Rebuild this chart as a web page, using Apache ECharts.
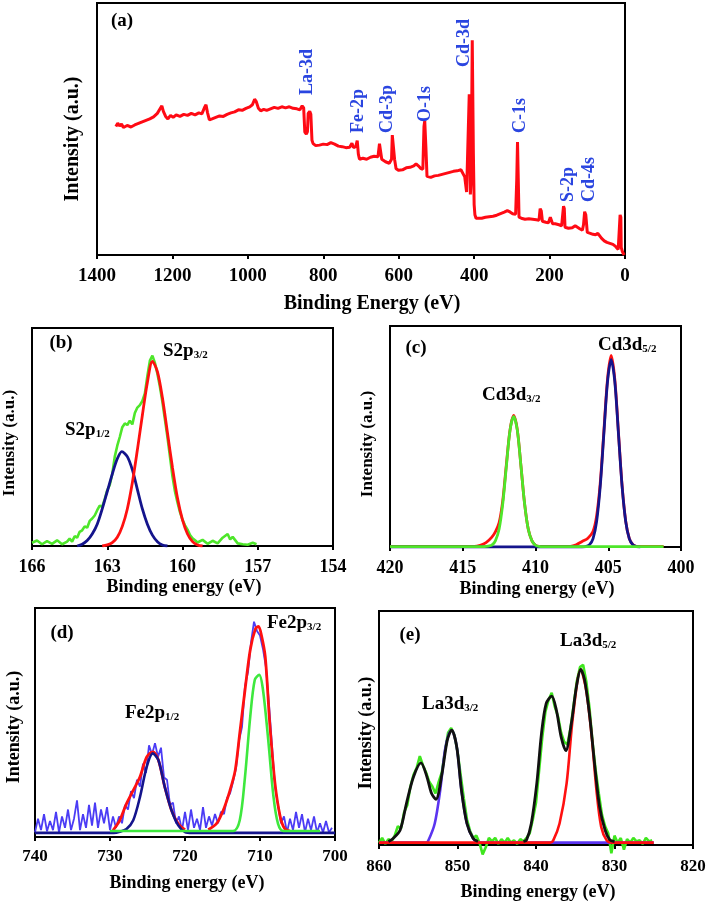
<!DOCTYPE html>
<html>
<head>
<meta charset="utf-8">
<script src="https://cdn.jsdelivr.net/npm/echarts@6/dist/echarts.min.js"></script>
<style>html,body{margin:0;padding:0;background:#fff;}#c{width:709px;height:904px;}</style>
</head>
<body>
<div id="c"></div>
<script>
// ===== Panel (a): XPS survey [binding energy eV, intensity a.u.] =====
const surveyData = [[1350,51.0],[1345,52.3],[1340,51.2],[1335,52.0],[1330,50.6],[1320,51.4],[1310,50.8],[1300,51.6],[1290,52.2],[1280,52.8],[1270,53.4],[1260,54.0],[1250,54.8],[1240,56.2],[1232,58.2],[1228,59.2],[1224,57.0],[1218,55.0],[1212,54.0],[1205,55.4],[1198,54.6],[1190,55.6],[1180,55.0],[1170,55.8],[1160,55.4],[1150,56.2],[1140,55.6],[1130,56.4],[1122,56.0],[1115,58.5],[1111,59.6],[1107,56.5],[1102,53.6],[1095,54.0],[1085,54.6],[1075,55.2],[1065,55.0],[1055,55.8],[1045,56.4],[1035,56.8],[1025,57.6],[1015,57.4],[1005,58.2],[995,58.8],[988,59.6],[982,61.8],[978,61.0],[972,58.2],[966,57.2],[958,57.8],[950,57.4],[940,58.0],[930,58.6],[920,58.2],[910,58.8],[900,58.4],[890,58.8],[880,58.2],[870,58.0],[862,57.6],[856,59.2],[852,58.4],[849,48.8],[845,48.0],[842,49.0],[840,56.2],[836,57.0],[833,55.8],[830,45.5],[827,44.2],[820,43.4],[810,43.6],[800,44.0],[790,43.8],[780,44.6],[770,44.0],[760,43.2],[750,43.0],[740,42.6],[730,42.8],[724,44.4],[720,42.6],[714,43.0],[710,45.4],[707,40.0],[704,38.0],[695,38.4],[685,38.0],[675,38.8],[665,39.2],[655,39.0],[651,44.2],[648,43.6],[645,38.0],[635,37.0],[625,36.4],[619,38.0],[617,47.6],[614,47.0],[611,38.0],[607,34.2],[600,33.6],[590,33.8],[580,34.6],[570,34.8],[560,35.4],[554,36.2],[548,35.4],[542,34.4],[536,34.0],[533,51.0],[531,53.2],[528,43.0],[525,31.2],[520,30.6],[515,30.8],[505,31.4],[495,31.6],[485,32.0],[475,32.4],[465,32.8],[455,33.2],[445,33.4],[435,33.8],[430,34.4],[425,31.0],[420,25.0],[416,25.5],[413,63.8],[410,24.0],[408,30.0],[405,85.2],[402,40.0],[400,20.0],[398,16.0],[395,14.6],[390,14.4],[380,14.6],[370,15.0],[360,15.2],[350,15.4],[340,15.8],[330,16.4],[320,17.0],[312,17.6],[308,17.9],[304,17.0],[298,16.4],[290,16.2],[287,30.0],[285,44.8],[283,30.0],[281,15.0],[275,14.6],[265,14.2],[255,14.4],[245,14.2],[235,14.0],[228,13.8],[225,18.4],[222,17.5],[219,13.4],[210,13.0],[203,12.8],[198,15.0],[195,14.5],[192,12.4],[185,12.4],[175,12.0],[168,11.6],[165,12.0],[163,19.4],[161,18.5],[159,11.0],[150,10.6],[140,10.8],[132,11.6],[128,11.0],[120,10.4],[113,9.8],[110,12.0],[107,17.2],[104,16.0],[100,9.0],[92,8.6],[85,8.2],[78,8.0],[72,8.6],[68,8.0],[62,6.6],[55,5.6],[48,5.0],[40,4.6],[32,4.2],[25,3.4],[18,2.2],[14,2.0],[13,15.9],[11,15.0],[10,3.0],[7,1.4],[4,0.5],[2,0.0]];
const surveyPeaks = ['La-3d','Fe-2p','Cd-3p','O-1s','Cd-3d','C-1s','S-2p','Cd-4s'];
const surveyTicks = [1400,1200,1000,800,600,400,200,0];

// ===== Panel (b): S 2p =====
const s2pRaw = [[166,1.5],[165.8,2.5],[165.6,0.8],[165.4,2.2],[165.2,1.0],[165.0,2.6],[164.8,0.8],[164.6,2.0],[164.5,3.4],[164.4,2.0],[164.3,4.5],[164.2,3.8],[164.1,6.5],[164.0,7.2],[163.9,9.0],[163.8,8.4],[163.7,11.5],[163.6,12.6],[163.5,14.0],[163.4,16.4],[163.3,18.5],[163.2,18.0],[163.1,21.5],[163.0,25.6],[162.9,28],[162.8,33],[162.7,41],[162.6,46],[162.5,50],[162.4,54.5],[162.3,56.2],[162.2,55.5],[162.1,57.5],[162.0,55.8],[161.9,61],[161.8,63.5],[161.7,64.6],[161.6,66.5],[161.5,70],[161.4,78],[161.3,85],[161.2,87.3],[161.1,84],[161.0,79],[160.9,73],[160.8,66],[160.7,58],[160.6,50],[160.5,41],[160.4,32],[160.3,25],[160.2,20],[160.1,15.5],[160.0,12],[159.9,9.5],[159.8,7.5],[159.7,5.0],[159.6,3.5],[159.5,2.6],[159.4,1.6],[159.2,2.8],[159.0,1.0],[158.8,2.4],[158.6,1.2],[158.4,3.8],[158.2,5.5],[158.1,3.0],[158.0,4.2],[157.8,1.2],[157.6,0.8],[157.4,0.6],[157.2,1.5],[157.05,0.8]];
const s2p32 = [[163.2,0],[163.0,0.5],[162.8,1.5],[162.6,4],[162.4,9],[162.2,17],[162.0,29],[161.8,44],[161.6,60],[161.4,75],[161.2,84.7],[161.0,80],[160.8,68],[160.6,52],[160.4,36],[160.2,22],[160.0,12],[159.8,5.5],[159.6,2],[159.4,0.5],[159.2,0]];
const s2p12 = [[164.2,0],[164.0,0.8],[163.8,2.5],[163.6,5.5],[163.4,10],[163.2,17],[163.0,25],[162.8,33],[162.6,40],[162.42,43.3],[162.2,41],[162.0,35],[161.8,26],[161.6,17],[161.4,10],[161.2,5],[161.0,2],[160.8,0.5],[160.6,0]];
const s2pTicks = [154,157,160,163,166];

// ===== Panel (c): Cd 3d =====
const cdEnvelope = [[420,0.3],[414.2,0.3],[413.8,0.8],[413.4,2],[413.0,4.5],[412.75,7],[412.5,11],[412.25,21],[412.0,37.5],[411.75,53],[411.5,59.5],[411.25,53],[411.0,36.7],[410.75,19.6],[410.5,8.1],[410.25,2.9],[410.0,0.8],[409.75,0.3],[407.6,0.3],[407.2,1],[406.8,2.5],[406.4,4],[406.05,7],[405.8,14],[405.55,29],[405.3,52.5],[405.05,76],[404.8,86.7],[404.55,76],[404.3,52],[404.05,28],[403.8,11.7],[403.55,3.8],[403.3,1],[403.05,0.3],[401.2,0.3]];
const cd52 = [[420,0],[406.8,0],[406.55,0.2],[406.3,0.95],[406.05,3.7],[405.8,11.5],[405.55,27.5],[405.3,51.4],[405.05,74.8],[404.8,84.8],[404.55,74.8],[404.3,51.4],[404.05,27.5],[403.8,11.5],[403.55,3.7],[403.3,0.95],[403.05,0.2],[402.8,0]];
const cd32 = [[420,0.2],[413.5,0.2],[413.25,0.4],[413.0,0.8],[412.75,2.9],[412.5,8.1],[412.25,19.6],[412.0,36.7],[411.75,52.9],[411.5,59.1],[411.25,52.9],[411.0,36.7],[410.75,19.6],[410.5,8.1],[410.25,2.9],[410.0,0.8],[409.75,0.3],[409.5,0.2],[401.2,0.2]];

// ===== Panel (d): Fe 2p =====
const feRaw = [[740,2],[739.6,8],[739.2,3],[738.8,10],[738.4,2.5],[738,7],[737.6,3],[737.2,11],[736.8,2],[736.4,9],[736,4],[735.6,12],[735.2,3],[734.8,8],[734.4,16],[734,3],[733.6,10],[733.2,4],[732.8,14],[732.4,5],[732,15],[731.6,4],[731.2,12],[730.8,6],[730.4,13],[730,3],[729.6,9],[729.2,4],[728.8,9],[728.4,6],[728,14],[727.6,12],[727.2,20],[726.8,17],[726.4,25],[726,22],[725.6,32],[725.2,28],[724.8,40],[724.4,36],[724,41],[723.6,35],[723.2,39],[722.8,26],[722.4,25],[722,14],[721.6,15],[721.2,6],[720.8,9],[720.4,3],[720,11],[719.6,3],[719.2,12],[718.8,4],[718.4,8],[718,3],[717.6,13],[717.2,4],[716.8,9],[716.4,5],[716,10],[715.6,6],[715.2,11],[714.8,10],[714.4,17],[714,19],[713.6,24],[713.2,30],[712.8,42],[712.4,48],[712,66],[711.6,72],[711.2,85],[710.8,94],[710.4,90],[710,88],[709.6,82],[709.2,74],[708.8,58],[708.4,40],[708,22],[707.6,14],[707.2,6],[706.8,9],[706.4,2],[706,8],[705.6,3],[705.2,11],[704.8,4],[704.4,10],[704,2],[703.6,8],[703.2,3],[702.8,9],[702.4,2],[702,6],[701.6,2],[701.2,7],[700.8,2],[700.4,4]];
const feEnvelope = [[729.6,2.9],[728.7,7.3],[727.8,14.6],[726.9,20.4],[726,26.3],[725.1,35],[724.3,37.2],[723.55,33.6],[722.7,21.9],[721.8,11.7],[720.9,5.8],[720,3.2],[718.5,'-'],[716.9,3.2],[715.8,5.8],[714.9,11.7],[714,20.4],[713.3,29.2],[712.7,45.3],[712,64.2],[711.3,81.8],[710.6,91],[710.2,92],[709.8,88],[709.3,78.8],[708.7,49.6],[708,23.4],[707.3,8.8],[706.7,3.6],[706,2.6]];
const fe12 = [[740,1.8],[729.5,1.8],[728.7,2.3],[727.8,3.5],[726.9,7.3],[726,17.5],[725.1,30.7],[724.3,36.5],[723.55,33.6],[722.7,21.9],[721.8,11.7],[720.9,5.1],[720,2.2],[719,1.8],[700,1.8]];
const fe32 = [[730,2.6],[713.6,2.6],[712.7,7.3],[712,26.3],[711.3,52.6],[710.7,68.6],[710.1,70.8],[709.6,64.2],[708.9,42.3],[708.2,17.5],[707.6,5.8],[706.9,2.6],[702,2.6]];

// ===== Panel (e): La 3d =====
const laRaw = [[860,1],[859.6,3],[859.2,0.5],[858.8,2.5],[858.4,1.5],[858,4],[857.6,8],[857.2,7],[856.8,14],[856.4,17],[856,25],[855.6,30],[855.2,33],[854.8,38],[854.4,34],[854,31],[853.6,27],[853.2,25],[852.8,22],[852.4,27],[852,31],[851.6,40],[851.2,48],[850.8,50],[850.4,47],[850,40],[849.6,30],[849.2,20],[848.8,11],[848.4,6],[848,3],[847.6,4],[847.2,1],[846.8,-4],[846.4,-1],[846,3],[845.6,1.5],[845.2,3],[844.8,0.5],[844.4,2.5],[844,1],[843.6,3],[843.2,1],[842.8,2],[842.4,0.5],[842,2.5],[841.6,1.5],[841.2,3],[840.8,5],[840.4,11],[840,18],[839.6,32],[839.2,46],[838.8,57],[838.4,62],[838,65],[837.6,59],[837.2,55],[836.8,48],[836.4,44],[836,43],[835.6,50],[835.2,60],[834.8,70],[834.4,76],[834,77],[833.6,70],[833.2,59],[832.8,44],[832.4,32],[832,22],[831.6,13],[831.2,8],[830.8,5],[830.4,-3.5],[830,4],[829.6,1],[829.2,3],[828.8,-2],[828.4,2.5],[828,1],[827.6,3],[827.2,1.5],[826.8,2],[826.4,0.5],[826,3],[825.6,1.5],[825.2,2]];
const laEnvelope = [[858.8,1.5],[858.2,2.8],[857.3,6.4],[856.5,17.8],[855.6,29.2],[854.65,35.1],[853.9,29.2],[853.3,22],[852.75,19.5],[852,30],[851.3,44.8],[850.75,49.1],[850.1,42],[849.5,23.5],[848.8,9.2],[848,2.8],[847.4,1.5],[844,'-'],[841.6,1.5],[841.2,2.2],[840.6,9.2],[839.9,26.3],[839.3,47.7],[838.7,60.5],[838,63.6],[837.4,57.6],[836.8,46.2],[836.2,40.3],[835.5,51.9],[834.85,67.6],[834.3,75],[833.8,70.4],[833.15,54.8],[832.5,33.4],[831.9,16.4],[831.2,6.4],[830.6,2.2],[830,1.5]];
const la32 = [[860,1],[854,1],[853.7,2],[852.9,9.2],[852.2,23.5],[851.6,40.5],[851.1,47.5],[850.75,49],[850.1,42],[849.5,23.5],[848.8,9.2],[848,2.8],[847.3,1],[825,1]];
const la52 = [[860,1],[838.2,1],[837.8,2],[837,9.2],[836.1,26.3],[835.3,54.8],[834.3,75],[833.6,66],[832.9,46.2],[832.3,23.5],[831.7,7.8],[831,2],[830.3,1],[825,1]];

// ===== rendering =====
const FF = '"Liberation Serif","Times New Roman",serif';
const chart = echarts.init(document.getElementById('c'), null, {renderer: 'canvas'});

const grids = [
  {left: 97, top: 3, width: 528, height: 252},
  {left: 32, top: 328, width: 301, height: 218},
  {left: 390, top: 326, width: 291, height: 221},
  {left: 35, top: 608, width: 300, height: 229},
  {left: 379, top: 611, width: 314, height: 234}
].map(g => Object.assign({show: true, borderColor: '#000', borderWidth: 2, backgroundColor: 'transparent'}, g));

function xa(i, min, max, interval, fs, margin, ticks) {
  const ax = {
    type: 'value', gridIndex: i, min: min, max: max, interval: interval, inverse: true,
    axisLine: {show: true, onZero: false, lineStyle: {color: '#000', width: 2}},
    axisTick: {show: true, inside: false, length: 4, lineStyle: {color: '#000', width: 2}},
    axisLabel: {color: '#000', fontFamily: FF, fontWeight: 'bold', fontSize: fs, margin: margin,
      showMinLabel: true, showMaxLabel: true, formatter: function (v) { return String(v); }},
    splitLine: {show: false}
  };
  if (ticks) { ax.axisLabel.customValues = ticks; ax.axisTick.customValues = ticks; }
  return ax;
}
function ya(i) {
  return {type: 'value', gridIndex: i, min: 0, max: 100,
    axisLine: {show: true, lineStyle: {color: '#000', width: 2}},
    axisTick: {show: false}, axisLabel: {show: false}, splitLine: {show: false}};
}
function ln(i, data, color, width, smooth, extra) {
  return Object.assign({type: 'line', xAxisIndex: i, yAxisIndex: i, data: data, showSymbol: false, symbol: 'none',
    smooth: smooth, lineStyle: {color: color, width: width}, itemStyle: {color: color}, animation: false, silent: true}, extra || {});
}

const RED = '#ff1010', NAVY = '#14148c', LGREEN = '#4ee62a', VIOLET = '#4b3cf5', BLUE_LBL = '#2a45e0';

const series = [
  ln(0, surveyData, '#ff0a14', 3, false),
  ln(1, s2pRaw, LGREEN, 2.6, false),
  ln(1, s2p12, NAVY, 2.8, 0.3),
  ln(1, s2p32, RED, 2.8, 0.3),
  ln(2, cdEnvelope, RED, 2.8, 0.3),
  ln(2, cd52, NAVY, 2.8, 0.3),
  ln(2, cd32, LGREEN, 2.8, 0.3),
  ln(3, feRaw, VIOLET, 1.8, false),
  ln(3, feEnvelope, RED, 2.8, 0.3),
  ln(3, fe12, NAVY, 2.6, 0.3),
  ln(3, fe32, '#3ee83e', 2.6, 0.3),
  ln(4, laRaw, '#3fe61e', 2.6, false, {clip: false}),
  ln(4, la32, '#5b34f0', 2.6, 0.3),
  ln(4, la52, RED, 2.6, 0.3),
  ln(4, laEnvelope, '#111', 2.8, 0.3)
];

function txt(x, y, text, fs, opts) {
  return Object.assign({type: 'text', x: x, y: y, z: 100, silent: true,
    style: Object.assign({text: text, fill: '#000', fontFamily: FF, fontWeight: 'bold', fontSize: fs,
      textAlign: 'center', textVerticalAlign: 'middle'}, (opts && opts.style) || {})},
    opts && opts.rotation ? {rotation: opts.rotation} : {});
}
function sub(x, y, main, s) {
  return {type: 'text', x: x, y: y, z: 100, silent: true,
    style: {text: '{m|' + main + '}{s|' + s + '}', textAlign: 'left', textVerticalAlign: 'middle',
      rich: {m: {fontFamily: FF, fontWeight: 'bold', fontSize: 19, fill: '#000', lineHeight: 22, verticalAlign: 'bottom'},
             s: {fontFamily: FF, fontWeight: 'bold', fontSize: 11, fill: '#000', lineHeight: 14, verticalAlign: 'bottom'}}}};
}
const R = Math.PI / 2;
function vlab(x, yBottom, text) {
  return {type: 'text', x: x, y: yBottom, rotation: R, z: 100, silent: true,
    style: {text: text, fill: BLUE_LBL, fontFamily: FF, fontWeight: 'bold', fontSize: 18, textAlign: 'left', textVerticalAlign: 'middle'}};
}

const surveyLabelPos = [[307,95],[358,133],[387,133],[425,122],[464,67],[520,133],[568,202],[589,202]];

const graphic = [
  // axis titles
  txt(372, 304, 'Binding Energy (eV)', 20),
  txt(73, 139, 'Intensity (a.u.)', 20, {rotation: R}),
  txt(184, 587, 'Binding energy (eV)', 18),
  txt(10, 443, 'Intensity (a.u.)', 17, {rotation: R}),
  txt(537, 589, 'Binding energy (eV)', 18),
  txt(368, 444, 'Intensity (a.u.)', 17, {rotation: R}),
  txt(187, 883, 'Binding energy (eV)', 18),
  txt(14, 727, 'Intensity (a.u.)', 18, {rotation: R}),
  txt(538, 892, 'Binding energy (eV)', 18),
  txt(366, 733, 'Intensity (a.u.)', 18, {rotation: R}),
  // panel letters
  txt(122, 21, '(a)', 19),
  txt(61, 343, '(b)', 19),
  txt(416, 348, '(c)', 19),
  txt(62, 633, '(d)', 19),
  txt(410, 635, '(e)', 19),
  // peak labels
  sub(163, 350, 'S2p', '3/2'),
  sub(65, 429, 'S2p', '1/2'),
  sub(482, 394, 'Cd3d', '3/2'),
  sub(598, 344, 'Cd3d', '5/2'),
  sub(267, 622, 'Fe2p', '3/2'),
  sub(125, 712, 'Fe2p', '1/2'),
  sub(560, 640, 'La3d', '5/2'),
  sub(422, 703, 'La3d', '3/2')
].concat(surveyPeaks.map((t, k) => vlab(surveyLabelPos[k][0], surveyLabelPos[k][1], t)));

chart.setOption({
  backgroundColor: '#fff',
  animation: false,
  grid: grids,
  xAxis: [
    xa(0, surveyTicks[surveyTicks.length - 1], surveyTicks[0], 200, 19, 12),
    xa(1, s2pTicks[0], s2pTicks[s2pTicks.length - 1], 3, 18, 12, s2pTicks),
    xa(2, 400, 420, 5, 18, 12),
    xa(3, 700, 740, 10, 17, 11),
    xa(4, 820, 860, 10, 17, 13)
  ],
  yAxis: [ya(0), ya(1), ya(2), ya(3), ya(4)],
  series: series,
  graphic: graphic
});
</script>
</body>
</html>
